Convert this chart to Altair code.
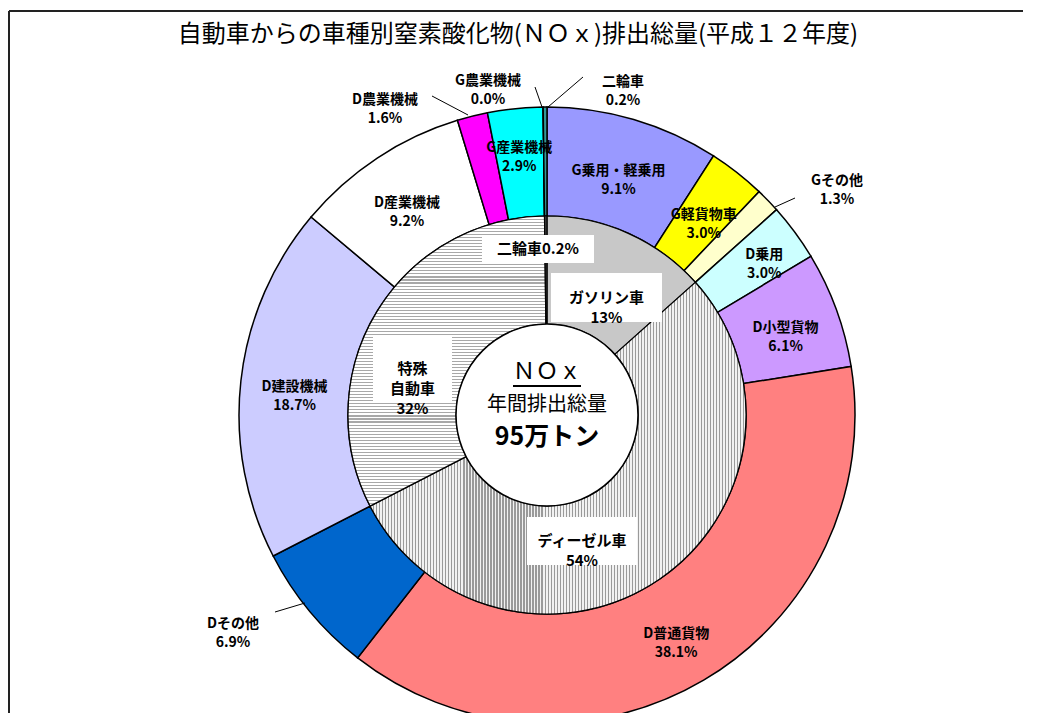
import math
import altair as alt
import pandas as pd

# ---------------- data ----------------
outer_names = ["G乗用・軽乗用", "G軽貨物車", "Gその他", "D乗用", "D小型貨物", "D普通貨物",
               "Dその他", "D建設機械", "D産業機械", "D農業機械", "G産業機械", "G農業機械", "二輪車"]
outer_values = [9.1, 3.0, 1.3, 3.0, 6.1, 38.1, 6.9, 18.7, 9.2, 1.6, 2.9, 0.0, 0.2]

inner_names = ["ガソリン車", "ディーゼル車", "特殊自動車", "二輪車"]
inner_values = [13.4, 54.1, 32.4, 0.2]
inner_labels = ["ガソリン車\n13%", "ディーゼル車\n54%", "特殊\n自動車\n32%", "二輪車0.2%"]

title_text = "自動車からの車種別窒素酸化物(ＮＯｘ)排出総量(平成１２年度)"
center_lines = ["ＮＯｘ", "年間排出総量", "95万トン"]

# ---------------- styles / layout ----------------
FONT = "Noto Sans CJK JP"
W, H = 1015, 705
CX, CY = 539, 407
R_OUT, R_MID, R_IN = 308, 199, 91

outer_colors = {"G乗用・軽乗用": "#9999ff", "G軽貨物車": "#ffff00", "Gその他": "#ffffcc",
                "D乗用": "#ccffff", "D小型貨物": "#cc99ff", "D普通貨物": "#ff8080",
                "Dその他": "#0066cc", "D建設機械": "#ccccff", "D産業機械": "#ffffff",
                "D農業機械": "#ff00ff", "G産業機械": "#00ffff", "G農業機械": "#ffffff",
                "二輪車": "#339999"}

# labels placed outside the ring (text centre, leader start, leader end)
outside_layout = {
    "二輪車": ((615, 74), (540, 99), (575, 69)),
    "G農業機械": ((480, 73), (534, 99), (527, 79)),
    "D農業機械": ((377, 92), (460, 107), (424, 88)),
    "Gその他": ((829, 173), (767, 199), (787, 190)),
    "Dその他": ((225, 616), (297, 595), (267, 604)),
}
label_radius = {"G産業機械": 268, "D乗用": 270}

# inner label boxes (x, x2, y, y2)
inner_boxes = {
    "二輪車": (474, 586, 227, 255),
    "ガソリン車": (543, 654, 265, 314),
    "特殊自動車": (365, 444, 327, 394),
    "ディーゼル車": (519, 629, 509, 557),
}


def stripes(n, line, bg, horizontal, frac=0.45):
    stops = []
    for i in range(n):
        a, b, c = i / n, (i + frac) / n, (i + 1) / n
        stops += [{"offset": a, "color": line}, {"offset": b, "color": line},
                  {"offset": b, "color": bg}, {"offset": c, "color": bg}]
    g = {"gradient": "linear", "stops": stops, "x1": 0, "y1": 0}
    if horizontal:
        g.update({"x2": 0, "y2": 1})
    else:
        g.update({"x2": 1, "y2": 0})
    return g


inner_fill = {
    "ガソリン車": "#c8c8c8",
    "ディーゼル車": stripes(125, "#9a9a9a", "#f2f2f2", horizontal=False, frac=0.4),
    "特殊自動車": stripes(96, "#a8a8a8", "#ffffff", horizontal=True, frac=0.35),
    "二輪車": "#404040",
}

# ---------------- tables ----------------
total = sum(outer_values)
theta_scale = alt.Scale(domain=[0, total], range=[0, 2 * math.pi])

odf = pd.DataFrame({"name": outer_names, "value": outer_values})
odf["end"] = odf["value"].cumsum()
odf["start"] = odf["end"] - odf["value"]
odf["mid"] = (odf["start"] + odf["end"]) / 2
odf["color"] = odf["name"].map(outer_colors)
odf["label"] = odf["name"] + "\n" + odf["value"].map(lambda v: f"{v:.1f}%")
odf["lr"] = odf["name"].map(lambda n: label_radius.get(n, 254))

idf = pd.DataFrame({"name": inner_names, "value": inner_values, "label": inner_labels})
idf["end"] = idf["value"].cumsum()
idf["start"] = idf["end"] - idf["value"]

inside = odf[~odf["name"].isin(list(outside_layout))]
outside = odf[odf["name"].isin(list(outside_layout))].copy()
outside["tx"] = outside["name"].map(lambda n: outside_layout[n][0][0])
outside["ty"] = outside["name"].map(lambda n: outside_layout[n][0][1])
outside["lx"] = outside["name"].map(lambda n: outside_layout[n][1][0])
outside["ly"] = outside["name"].map(lambda n: outside_layout[n][1][1])
outside["lx2"] = outside["name"].map(lambda n: outside_layout[n][2][0])
outside["ly2"] = outside["name"].map(lambda n: outside_layout[n][2][1])

idf["bx"] = idf["name"].map(lambda n: inner_boxes[n][0])
idf["bx2"] = idf["name"].map(lambda n: inner_boxes[n][1])
idf["by"] = idf["name"].map(lambda n: inner_boxes[n][2])
idf["by2"] = idf["name"].map(lambda n: inner_boxes[n][3])
idf["tx"] = (idf["bx"] + idf["bx2"]) / 2
idf["ty"] = (idf["by"] + idf["by2"]) / 2

px = dict(scale=None, axis=None)
cx = alt.value(CX)
cy = alt.value(CY)

# ---------------- layers ----------------
outer_ring = alt.Chart(odf).mark_arc(radius=R_OUT, radius2=R_MID, stroke="black", strokeWidth=1.5).encode(
    theta=alt.Theta("start:Q", scale=theta_scale),
    theta2=alt.Theta2("end:Q"),
    color=alt.Color("color:N", scale=None),
    x=cx, y=cy,
)

inner_layers = []
for nm in inner_names:
    inner_layers.append(
        alt.Chart(idf).transform_filter(alt.datum.name == nm)
        .mark_arc(radius=R_MID, radius2=R_IN, fill=inner_fill[nm], stroke="black", strokeWidth=1.2)
        .encode(theta=alt.Theta("start:Q", scale=theta_scale), theta2=alt.Theta2("end:Q"), x=cx, y=cy)
    )

center_circle = alt.Chart(pd.DataFrame({"a": [0]})).mark_arc(
    radius=R_IN, fill="white", stroke="black", strokeWidth=1.5
).encode(theta=alt.value(0), theta2=alt.value(2 * math.pi), x=cx, y=cy)

text_style = dict(font=FONT, fontWeight="bold", fontSize=14, lineBreak="\n", lineHeight=19,
                  align="center", baseline="middle", color="black")

inside_text = alt.Chart(inside).mark_text(**text_style).encode(
    theta=alt.Theta("mid:Q", scale=theta_scale),
    radius=alt.Radius("lr:Q", scale=None),
    text="label:N", x=cx, y=cy,
)

leaders = alt.Chart(outside).mark_rule(color="black", strokeWidth=1).encode(
    x=alt.X("lx:Q", **px), y=alt.Y("ly:Q", **px), x2="lx2:Q", y2="ly2:Q"
)
outside_text = alt.Chart(outside).mark_text(**text_style).encode(
    x=alt.X("tx:Q", **px), y=alt.Y("ty:Q", **px), text="label:N"
)

boxes = alt.Chart(idf).mark_rect(fill="white", stroke=None).encode(
    x=alt.X("bx:Q", **px), x2="bx2:Q", y=alt.Y("by:Q", **px), y2="by2:Q"
)
inner_text = alt.Chart(idf).mark_text(**{**text_style, "fontSize": 15, "lineHeight": 20}).encode(
    x=alt.X("tx:Q", **px), y=alt.Y("ty:Q", **px), text="label:N"
)

cdf = pd.DataFrame({"t": center_lines, "yy": [CY - 43, CY - 10, CY + 22]})
center_text = alt.layer(
    alt.Chart(cdf.iloc[[0]]).mark_text(font=FONT, fontSize=23, color="black", baseline="middle").encode(
        x=cx, y=alt.Y("yy:Q", **px), text="t:N"),
    alt.Chart(cdf.iloc[[1]]).mark_text(font=FONT, fontSize=20, color="black", baseline="middle").encode(
        x=cx, y=alt.Y("yy:Q", **px), text="t:N"),
    alt.Chart(cdf.iloc[[2]]).mark_text(font=FONT, fontSize=25, fontWeight="bold", color="black",
                                       baseline="middle").encode(
        x=cx, y=alt.Y("yy:Q", **px), text="t:N"),
)
underline = alt.Chart(pd.DataFrame({"a": [0]})).mark_rule(color="black", strokeWidth=2).encode(
    x=alt.value(CX - 34), x2=alt.value(CX + 34), y=alt.value(CY - 29)
)

frame = alt.Chart(pd.DataFrame({"x": [1, 1], "y": [3, 3], "x2": [W, 1], "y2": [3, H]})).mark_rule(
    color="#222", strokeWidth=2
).encode(x=alt.X("x:Q", **px), y=alt.Y("y:Q", **px), x2="x2:Q", y2="y2:Q")

title = alt.Chart(pd.DataFrame({"t": [title_text]})).mark_text(
    font=FONT, fontSize=24, color="black", baseline="middle"
).encode(x=alt.value(510), y=alt.value(27), text="t:N")

chart = alt.layer(
    frame, title, outer_ring, *inner_layers, center_circle, leaders, boxes,
    inside_text, outside_text, inner_text, center_text, underline
).properties(width=W, height=H, padding=0, autosize="none").configure_view(stroke=None)

chart.save("out.html", embed_options={"renderer": "svg", "actions": False})
